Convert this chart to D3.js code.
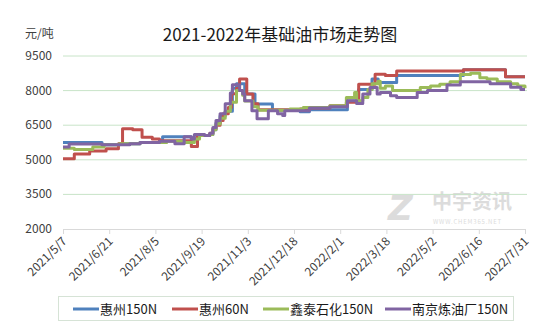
<!DOCTYPE html>
<html>
<head>
<meta charset="utf-8">
<script src="https://cdn.jsdelivr.net/npm/d3@7"></script>
<style>
  body { margin: 0; background: #fff; }
  svg { display: block; font-family: "Noto Sans CJK SC", "Noto Sans", sans-serif; }
</style>
</head>
<body>
<div id="chart"></div>
<script>
// tick labels
const xTickLabels = ['2021/5/7', '2021/6/21', '2021/8/5', '2021/9/19', '2021/11/3', '2021/12/18',
  '2022/2/1', '2022/3/18', '2022/5/2', '2022/6/16', '2022/7/31'];
const yTicks = [2000, 3500, 5000, 6500, 8000, 9500];

const seriesNames = ['惠州150N', '惠州60N', '鑫泰石化150N', '南京炼油厂150N'];
const seriesColors = ['#4f81bd', '#c0504d', '#9bbb59', '#8064a2'];

// 惠州150N (price changes, yuan/ton)
const hz150Dates = ['2021/5/7', '2021/6/14', '2021/7/1', '2021/7/21', '2021/8/12', '2021/9/9', '2021/9/15',
  '2021/9/27', '2021/9/30', '2021/10/3', '2021/10/7', '2021/10/12', '2021/10/19', '2021/10/23',
  '2021/10/31', '2021/11/10', '2021/11/27', '2021/12/24', '2022/1/2', '2022/2/8', '2022/2/19',
  '2022/3/4', '2022/3/10', '2022/3/28', '2022/6/1', '2022/7/12', '2022/7/31'];
const hz150Values = [5750, 5650, 5700, 5750, 6000, 5900, 6050,
  6100, 6300, 6600, 6900, 7100, 8100, 8300,
  7850, 7420, 7150, 7080, 7170, 7550, 8050,
  8500, 8350, 8650, 8900, 8600, 8600];

// 惠州60N
const hz60Dates = ['2021/5/7', '2021/5/18', '2021/6/2', '2021/6/18', '2021/6/30', '2021/7/4', '2021/7/14',
  '2021/7/23', '2021/8/2', '2021/8/9', '2021/9/9', '2021/9/15', '2021/9/27', '2021/9/30', '2021/10/3',
  '2021/10/7', '2021/10/10', '2021/10/15', '2021/10/18', '2021/10/23', '2021/10/26', '2021/11/2',
  '2021/11/8', '2021/11/13', '2021/12/24', '2022/1/2', '2022/1/22', '2022/2/7', '2022/2/19',
  '2022/3/7', '2022/3/17', '2022/3/28', '2022/6/1', '2022/7/12', '2022/7/31'];
const hz60Values = [5050, 5250, 5380, 5480, 5700, 6350, 6300,
  5980, 5900, 5830, 5580, 6050, 6150, 6350, 6500,
  6700, 7000, 7270, 7860, 8100, 8500, 7850,
  7430, 7170, 7200, 7250, 7340, 7490, 8280,
  8710, 8650, 8850, 8900, 8600, 8600];

// 鑫泰石化150N
const xtDates = ['2021/5/7', '2021/5/18', '2021/6/5', '2021/6/16', '2021/7/1', '2021/7/21', '2021/8/16',
  '2021/9/2', '2021/9/12', '2021/9/17', '2021/9/27', '2021/9/30', '2021/10/3', '2021/10/7',
  '2021/10/12', '2021/10/17', '2021/10/23', '2021/10/29', '2021/10/31', '2021/11/8', '2021/11/13',
  '2021/12/14', '2021/12/27', '2022/1/22', '2022/2/7', '2022/2/15', '2022/2/17', '2022/2/23',
  '2022/2/28', '2022/3/4', '2022/3/10', '2022/3/12', '2022/3/17', '2022/3/24', '2022/4/20',
  '2022/4/30', '2022/5/9', '2022/5/19', '2022/5/29', '2022/6/8', '2022/6/17', '2022/6/24',
  '2022/7/4', '2022/7/17', '2022/7/24', '2022/7/31'];
const xtValues = [5500, 5450, 5550, 5650, 5700, 5750, 5800,
  5750, 5900, 6050, 6100, 6300, 6550, 6800,
  7100, 7500, 8000, 7800, 7550, 7300, 7150,
  7200, 7270, 7340, 7700, 7920, 7560, 7700,
  8050, 8300, 8400, 8100, 8200, 8000, 8130,
  8200, 8280, 8380, 8700, 8750, 8560, 8500,
  8380, 8300, 8200, 8100];

// 南京炼油厂150N
const njDates = ['2021/5/7', '2021/5/13', '2021/6/14', '2021/7/11', '2021/7/21', '2021/8/9', '2021/8/24',
  '2021/9/2', '2021/9/9', '2021/9/12', '2021/9/22', '2021/9/27', '2021/9/30', '2021/10/3',
  '2021/10/7', '2021/10/12', '2021/10/17', '2021/10/19', '2021/10/26', '2021/10/29', '2021/10/31',
  '2021/11/7', '2021/11/12', '2021/11/23', '2021/12/2', '2021/12/7', '2021/12/9', '2022/1/2',
  '2022/1/22', '2022/2/8', '2022/2/17', '2022/2/23', '2022/3/2', '2022/3/9', '2022/3/12',
  '2022/3/22', '2022/3/28', '2022/4/17', '2022/4/27', '2022/5/16', '2022/5/29', '2022/6/27',
  '2022/7/17', '2022/7/27', '2022/7/31'];
const njValues = [5550, 5690, 5650, 5700, 5750, 5800, 5700,
  6000, 5900, 6100, 6050, 6150, 6400, 6700,
  7000, 7430, 7900, 8250, 8000, 7850, 7560,
  7130, 6780, 7130, 7000, 6920, 7130, 7250,
  7300, 7560, 7440, 7850, 8130, 7850, 7920,
  7780, 7700, 7920, 8000, 8240, 8380, 8300,
  8150, 8050, 8050];

const parseDate = d3.timeParse('%Y/%m/%d');
const zip = (dates, values) => dates.map((d, i) => ({ date: parseDate(d), value: values[i] }));
const series = [
  zip(hz150Dates, hz150Values),
  zip(hz60Dates, hz60Values),
  zip(xtDates, xtValues),
  zip(njDates, njValues)
];

const width = 550;
const height = 326;
const plot = { left: 63, right: 525, top: 56, bottom: 229 };

const svg = d3.select('#chart').append('svg')
  .attr('width', width)
  .attr('height', height);

svg.append('rect')
  .attr('width', width)
  .attr('height', height)
  .attr('fill', '#fff');

const tickDates = xTickLabels.map(parseDate);
const x = d3.scaleTime()
  .domain([tickDates[0], tickDates[tickDates.length - 1]])
  .range([plot.left, plot.right]);
const y = d3.scaleLinear()
  .domain([2000, 9500])
  .range([plot.bottom, plot.top]);

// title + unit
svg.append('text')
  .attr('x', 280)
  .attr('y', 41)
  .attr('text-anchor', 'middle')
  .attr('font-size', 17)
  .attr('fill', '#1a1a1a')
  .text('2021-2022年基础油市场走势图');

svg.append('text')
  .attr('x', 25)
  .attr('y', 38)
  .attr('font-size', 12)
  .attr('fill', '#404040')
  .text('元/吨');

// watermark
const wm = svg.append('g').attr('fill', '#dcdcdc');
wm.append('text')
  .attr('x', 388).attr('y', 220)
  .attr('font-size', 34).attr('font-weight', 'bold').attr('font-style', 'italic')
  .attr('font-family', 'DejaVu Sans')
  .text('Z');
wm.append('text')
  .attr('x', 432).attr('y', 209)
  .attr('font-size', 20).attr('font-weight', 'bold')
  .text('中宇资讯');
wm.append('text')
  .attr('x', 433).attr('y', 224)
  .attr('font-size', 6)
  .attr('letter-spacing', 0.8)
  .text('WWW.CHEM365.NET');

// gridlines
svg.append('g')
  .selectAll('line')
  .data(yTicks.slice(1))
  .enter().append('line')
    .attr('x1', plot.left)
    .attr('x2', plot.right + 2)
    .attr('y1', d => y(d))
    .attr('y2', d => y(d))
    .attr('stroke', '#c8e4c8')
    .attr('stroke-width', 1);

// y labels
svg.append('g')
  .selectAll('text')
  .data(yTicks)
  .enter().append('text')
    .attr('x', 52)
    .attr('y', d => y(d) + 4)
    .attr('text-anchor', 'end')
    .attr('font-size', 12)
    .attr('fill', '#404040')
    .text(d => d);

// x axis
const xAxis = svg.append('g')
  .attr('transform', `translate(0,${plot.bottom})`)
  .call(d3.axisBottom(x)
    .tickValues(tickDates)
    .tickSize(5)
    .tickFormat((d, i) => xTickLabels[i]));
xAxis.select('.domain').attr('stroke', '#d9d9d9');
xAxis.selectAll('.tick line').attr('stroke', '#d9d9d9');
xAxis.selectAll('.tick text')
  .attr('font-size', 12)
  .attr('fill', '#404040')
  .attr('font-family', '"Noto Sans CJK SC", sans-serif')
  .attr('text-anchor', 'end')
  .attr('dy', null)
  .attr('y', null)
  .attr('transform', 'translate(4,13) rotate(-45)');

// lines
const line = d3.line()
  .x(d => x(d.date))
  .y(d => y(d.value))
  .curve(d3.curveStepAfter);

svg.append('g')
  .selectAll('path')
  .data(series)
  .enter().append('path')
    .attr('d', line)
    .attr('fill', 'none')
    .attr('stroke', (d, i) => seriesColors[i])
    .attr('stroke-width', 3)
    .attr('stroke-linejoin', 'round');

// legend
const legend = svg.append('g');
legend.append('rect')
  .attr('x', 58.5)
  .attr('y', 296.5)
  .attr('width', 455)
  .attr('height', 24)
  .attr('fill', '#fff')
  .attr('stroke', '#d6e3d6');

const legendX = [73, 172, 263, 385];
const items = legend.selectAll('g.item')
  .data(seriesNames)
  .enter().append('g')
    .attr('class', 'item')
    .attr('transform', (d, i) => `translate(${legendX[i]},309)`);
items.append('line')
  .attr('x1', 0)
  .attr('x2', 26)
  .attr('stroke', (d, i) => seriesColors[i])
  .attr('stroke-width', 3);
items.append('text')
  .attr('x', 27)
  .attr('y', 5)
  .attr('font-size', 13)
  .attr('fill', '#1a1a1a')
  .text(d => d);
</script>
</body>
</html>
